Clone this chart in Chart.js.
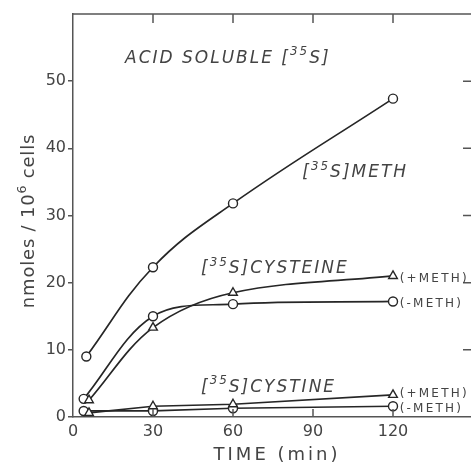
<!DOCTYPE html>
<html>
<head>
<meta charset="utf-8">
<script src="https://cdn.jsdelivr.net/npm/chart.js@4.4.0/dist/chart.umd.min.js"></script>
<style>
html, body { margin: 0; padding: 0; background: #fff; overflow: hidden; }
#wrap { width: 480px; height: 466px; }
</style>
</head>
<body>
<div id="wrap"><canvas id="chart" width="480" height="466"></canvas></div>
<script>
"use strict";

// values (time in min, nmoles / 10^6 cells)
var methTime = [5, 30, 60, 120];
var methValues = [9.0, 22.3, 31.8, 47.4];
var cysteinePlusTime = [6, 30, 60, 120];
var cysteinePlus = [2.5, 13.3, 18.5, 21.0];
var cysteineMinusTime = [4, 30, 60, 120];
var cysteineMinus = [2.7, 15.0, 16.8, 17.2];
var cystinePlusTime = [6, 30, 60, 120];
var cystinePlus = [0.6, 1.6, 1.9, 3.3];
var cystineMinusTime = [4, 30, 60, 120];
var cystineMinus = [0.9, 0.9, 1.3, 1.6];
var xTicks = [0, 30, 60, 90, 120];
var yTicks = [0, 10, 20, 30, 40, 50];

var ink = '#262626';
var textInk = '#444';

function points(times, values) {
    return times.map(function (t, i) { return { x: t, y: values[i] }; });
}

function series(label, times, values, style, tension) {
    return {
        label: label,
        data: points(times, values),
        borderColor: ink,
        borderWidth: 1.7,
        pointStyle: style,
        pointRadius: style == 'triangle' ? 5 : 4.5,
        pointBackgroundColor: '#fff',
        pointBorderColor: ink,
        pointBorderWidth: 1.4,
        tension: tension
    };
}

// draws text made of normal and superscript parts, left aligned at baseline
function drawRich(ctx, parts, x, y, size, style, spacing) {
    var cx = x;
    parts.forEach(function (p) {
        var s = p.sup ? size * 0.7 : size;
        ctx.font = style + ' ' + s + 'px "DejaVu Sans"';
        ctx.letterSpacing = spacing + 'px';
        ctx.fillText(p.t, cx, p.sup ? y - size * 0.45 : y);
        cx += ctx.measureText(p.t).width;
    });
    return cx - x;
}

function richWidth(ctx, parts, size, style, spacing) {
    var w = 0;
    parts.forEach(function (p) {
        var s = p.sup ? size * 0.7 : size;
        ctx.font = style + ' ' + s + 'px "DejaVu Sans"';
        ctx.letterSpacing = spacing + 'px';
        w += ctx.measureText(p.t).width;
    });
    return w;
}

var notes = [
    { x: 19.5, y: 52.7, parts: [{ t: 'ACID SOLUBLE ' }, { t: '[' }, { t: '35', sup: true }, { t: 'S]' }] },
    { x: 86, y: 35.7, parts: [{ t: '[' }, { t: '35', sup: true }, { t: 'S]METH' }] },
    { x: 48, y: 21.4, parts: [{ t: '[' }, { t: '35', sup: true }, { t: 'S]CYSTEINE' }] },
    { x: 48, y: 3.7, parts: [{ t: '[' }, { t: '35', sup: true }, { t: 'S]CYSTINE' }] }
];

var sideNotes = [
    { x: 122.5, y: 20.6, text: '(+METH)' },
    { x: 122.5, y: 16.8, text: '(-METH)' },
    { x: 122.5, y: 3.4, text: '(+METH)' },
    { x: 122.5, y: 1.2, text: '(-METH)' }
];

var framePlugin = {
    id: 'frame',
    afterDraw: function (chart) {
        var ctx = chart.ctx;
        var a = chart.chartArea;
        var xs = chart.scales.x;
        var ys = chart.scales.y;
        ctx.save();
        ctx.strokeStyle = '#555';
        ctx.lineWidth = 1.5;
        ctx.beginPath();
        ctx.moveTo(a.left, a.top);
        ctx.lineTo(a.right, a.top);
        ctx.lineTo(a.right, a.bottom);
        [30, 60, 90, 120].forEach(function (v) {
            var px = xs.getPixelForValue(v);
            ctx.moveTo(px, a.top);
            ctx.lineTo(px, a.top + 9);
            ctx.moveTo(px, a.bottom);
            ctx.lineTo(px, a.bottom - 8);
        });
        [10, 20, 30, 40, 50].forEach(function (v) {
            var py = ys.getPixelForValue(v);
            ctx.moveTo(a.right, py);
            ctx.lineTo(a.right - 10, py);
        });
        ctx.stroke();

        ctx.fillStyle = textInk;
        ctx.textBaseline = 'alphabetic';
        ctx.textAlign = 'left';
        notes.forEach(function (n) {
            drawRich(ctx, n.parts, xs.getPixelForValue(n.x), ys.getPixelForValue(n.y), 17, 'italic', 2);
        });
        ctx.textBaseline = 'middle';
        sideNotes.forEach(function (n) {
            ctx.font = '12px "DejaVu Sans"';
            ctx.letterSpacing = '2.2px';
            ctx.fillText(n.text, xs.getPixelForValue(n.x), ys.getPixelForValue(n.y));
        });

        // axis titles
        ctx.textBaseline = 'alphabetic';
        var xt = [{ t: 'TIME (min)' }];
        var w = richWidth(ctx, xt, 18, 'normal', 3);
        drawRich(ctx, xt, 277 - w / 2, 460, 18, 'normal', 3);

        var yt = [{ t: 'nmoles / 10' }, { t: '6', sup: true }, { t: ' cells' }];
        ctx.translate(34, 221);
        ctx.rotate(-Math.PI / 2);
        var wy = richWidth(ctx, yt, 18, 'normal', 0.8);
        drawRich(ctx, yt, -wy / 2, 0, 18, 'normal', 0.8);
        ctx.restore();
    }
};

var ctx = document.getElementById('chart');
new Chart(ctx, {
    type: 'line',
    data: {
        datasets: [
            series('[35S]METH', methTime, methValues, 'circle', 0.4),
            series('[35S]CYSTEINE +METH', cysteinePlusTime, cysteinePlus, 'triangle', 0.35),
            series('[35S]CYSTEINE -METH', cysteineMinusTime, cysteineMinus, 'circle', 0.35),
            series('[35S]CYSTINE +METH', cystinePlusTime, cystinePlus, 'triangle', 0),
            series('[35S]CYSTINE -METH', cystineMinusTime, cystineMinus, 'circle', 0)
        ]
    },
    options: {
        responsive: false,
        animation: false,
        layout: { padding: { top: 14, right: 7, left: 0, bottom: 0 } },
        plugins: {
            legend: { display: false },
            tooltip: { enabled: false }
        },
        scales: {
            x: {
                type: 'linear',
                min: 0,
                max: 150,
                afterBuildTicks: function (scale) {
                    scale.ticks = xTicks.map(function (v) { return { value: v }; });
                },
                afterFit: function (scale) { scale.height = 49; },
                grid: { display: true, drawOnChartArea: false, drawTicks: false },
                border: { display: true, color: '#555', width: 1.5 },
                ticks: {
                    color: textInk,
                    padding: 5,
                    maxRotation: 0,
                    font: { family: 'DejaVu Sans', size: 16 }
                }
            },
            y: {
                min: 0,
                max: 60,
                afterBuildTicks: function (scale) {
                    scale.ticks = yTicks.map(function (v) { return { value: v }; });
                },
                afterFit: function (scale) { scale.width = 73; },
                grid: { display: true, drawOnChartArea: false, drawTicks: true, tickLength: 5, color: '#555', lineWidth: 1.5 },
                border: { display: true, color: '#555', width: 1.5 },
                ticks: {
                    color: textInk,
                    padding: 2,
                    font: { family: 'DejaVu Sans', size: 16 }
                }
            }
        }
    },
    plugins: [framePlugin]
});
</script>
</body>
</html>
